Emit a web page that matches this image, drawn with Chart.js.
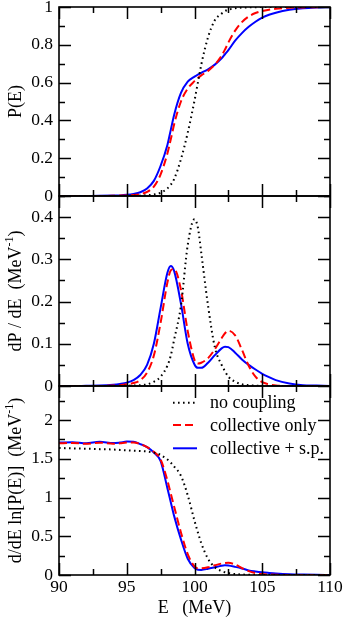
<!DOCTYPE html>
<html><head><meta charset="utf-8">
<script src="https://cdn.jsdelivr.net/npm/chart.js@4.4.1/dist/chart.umd.min.js"></script>
<style>
html,body{margin:0;padding:0;background:#fff}
#wrap{position:relative;width:345px;height:618px}
canvas{position:absolute;left:0;top:0}
</style></head>
<body><div id="wrap">
<canvas id="c1" width="345" height="618"></canvas>
<canvas id="c2" width="345" height="618"></canvas>
<canvas id="c3" width="345" height="618"></canvas>
</div>
<script>
// ---- data ----
const energy = [90, 91, 92, 93, 94, 94.5, 95, 95.5, 96, 96.5, 97, 97.5, 98, 98.25, 98.5, 99, 99.5, 100, 100.25, 100.5, 101, 101.5, 102, 102.25, 102.5, 103, 103.5, 104, 104.5, 105, 105.5, 106, 107, 108, 109, 110];

const pNoCoupling = [0,0,0,0,0,0.0002,0.0005,0.001,0.002,0.004,0.008,0.017,0.04,0.06,0.09,0.195,0.335,0.505,0.6,0.695,0.84,0.93,0.965,0.978,0.986,0.993,0.997,0.998,0.999,1,1,1,1,1,1,1];
const pCollective = [0,0,0,0,0.001,0.002,0.003,0.005,0.01,0.022,0.05,0.115,0.225,0.3,0.38,0.5,0.568,0.608,0.624,0.638,0.662,0.695,0.742,0.775,0.812,0.875,0.92,0.95,0.968,0.979,0.986,0.991,0.996,0.998,0.999,1];
const pCollectiveSP = [0,0,0.0005,0.001,0.002,0.003,0.006,0.011,0.02,0.04,0.08,0.16,0.27,0.35,0.43,0.545,0.605,0.632,0.642,0.652,0.67,0.695,0.728,0.75,0.772,0.822,0.862,0.895,0.922,0.944,0.959,0.97,0.985,0.993,0.997,0.999];

const dNoCoupling = [0,0,0,0,0,0.0003,0.0007,0.0012,0.002,0.004,0.01,0.022,0.048,0.072,0.11,0.19,0.334,0.395,0.375,0.315,0.19,0.092,0.05,0.035,0.022,0.01,0.004,0.002,0.0008,0.0003,0,0,0,0,0,0];
const dCollective = [0,0,0,0,0.001,0.002,0.004,0.007,0.014,0.032,0.072,0.15,0.245,0.274,0.277,0.228,0.13,0.062,0.053,0.055,0.066,0.087,0.113,0.125,0.131,0.12,0.086,0.048,0.022,0.009,0.004,0.001,0,0,0,0];
const dCollectiveSP = [0,0,0.0005,0.001,0.003,0.005,0.008,0.014,0.026,0.05,0.1,0.185,0.268,0.284,0.272,0.195,0.1,0.051,0.043,0.043,0.055,0.073,0.089,0.093,0.092,0.079,0.063,0.05,0.039,0.029,0.021,0.014,0.006,0.002,0.001,0];

const lNoCoupling = [1.64,1.635,1.63,1.625,1.62,1.615,1.61,1.605,1.6,1.595,1.58,1.55,1.49,1.45,1.4,1.28,1.03,0.7,0.55,0.41,0.21,0.1,0.05,0.035,0.025,0.012,0.006,0.003,0.001,0.0005,0,0,0,0,0,0];
const lCollective = [1.7,1.705,1.693,1.708,1.695,1.7,1.71,1.71,1.69,1.65,1.59,1.49,1.22,1.05,0.88,0.55,0.27,0.11,0.088,0.088,0.1,0.125,0.148,0.155,0.157,0.135,0.09,0.05,0.025,0.012,0.006,0.003,0.001,0,0,0];
const lCollectiveSP = [1.71,1.715,1.7,1.72,1.703,1.71,1.722,1.72,1.69,1.65,1.58,1.47,1.12,0.94,0.76,0.46,0.21,0.09,0.068,0.066,0.08,0.1,0.12,0.125,0.122,0.105,0.085,0.06,0.046,0.035,0.027,0.02,0.01,0.005,0.002,0.001];

const seriesNames = ['no coupling', 'collective only', 'collective + s.p.'];
const xTicks = [90, 95, 100, 105, 110];
const pTicks = [0, 0.2, 0.4, 0.6, 0.8, 1];
const dTicks = [0, 0.1, 0.2, 0.3, 0.4];
const lTicks = [0, 0.5, 1, 1.5, 2];

// ---- styling ----
const SERIF = '"Liberation Serif", "Times New Roman", serif';
const styles = [
  {borderColor:'#000000', borderWidth:2, borderDash:[1.6,3.4]},
  {borderColor:'#ff0000', borderWidth:2, borderDash:[8,4]},
  {borderColor:'#0000ff', borderWidth:2, borderDash:[]}
];
const fmt = v => String(+Number(v).toFixed(3));

function mkDatasets(arrs){
  return arrs.map((a,i)=>Object.assign({
    label: seriesNames[i],
    data: energy.map((e,k)=>({x:e, y:a[k]})),
    pointRadius:0, fill:false, cubicInterpolationMode:'monotone'
  }, styles[i]));
}

const framePlugin = {
  id:'frame',
  afterDraw(chart, args, o){
    const ctx = chart.ctx, a = chart.chartArea, xs = chart.scales.x, ys = chart.scales.y;
    ctx.save();
    ctx.strokeStyle = '#000';
    ctx.lineWidth = 1.5;
    ctx.beginPath();
    for (let v = 90; v <= 110.001; v += 2.5){
      const px = Math.round(xs.getPixelForValue(v)) + 0.5;
      const major = Math.abs(v/5 - Math.round(v/5)) < 1e-6;
      const L = major ? 12 : 6;
      ctx.moveTo(px, a.top); ctx.lineTo(px, a.top + L);
      ctx.moveTo(px, a.bottom); ctx.lineTo(px, a.bottom - L);
    }
    for (let v = o.yMin; v <= o.yMax + 1e-9; v += o.minor){
      const py = Math.round(ys.getPixelForValue(v)) + 0.5;
      const major = Math.abs(v/o.major - Math.round(v/o.major)) < 1e-6;
      const L = major ? 12 : 6;
      ctx.moveTo(a.left, py); ctx.lineTo(a.left + L, py);
      ctx.moveTo(a.right, py); ctx.lineTo(a.right - L, py);
    }
    ctx.stroke();
    ctx.lineWidth = 1.6;
    ctx.strokeRect(a.left, a.top, a.right - a.left, a.bottom - a.top);
    ctx.fillStyle = '#000';
    ctx.translate(o.titleX, (a.top + a.bottom)/2);
    ctx.rotate(-Math.PI/2);
    ctx.textBaseline = 'middle';
    const big = '18px ' + SERIF, small = '12px ' + SERIF;
    let w = 0;
    o.title.forEach(p => { ctx.font = p.sup ? small : big; w += ctx.measureText(p.t).width; });
    let cx = -w/2;
    o.title.forEach(p => {
      ctx.font = p.sup ? small : big;
      ctx.textAlign = 'left';
      ctx.fillText(p.t, cx, p.sup ? -6 : 0);
      cx += ctx.measureText(p.t).width;
    });
    ctx.restore();
    if (o.legend){
      ctx.save();
      const ds = chart.data.datasets;
      const rows = [402.7, 425, 448.3];
      ds.forEach((d, i) => {
        ctx.strokeStyle = d.borderColor; ctx.lineWidth = d.borderWidth;
        ctx.setLineDash(d.borderDash || []);
        ctx.beginPath(); ctx.moveTo(173, rows[i]); ctx.lineTo(197, rows[i]); ctx.stroke();
        ctx.setLineDash([]);
        ctx.fillStyle = '#000'; ctx.font = '18px ' + SERIF;
        ctx.textBaseline = 'middle'; ctx.textAlign = 'left';
        ctx.fillText(d.label, 210, rows[i] + 1);
      });
      ctx.font = '18px ' + SERIF; ctx.textAlign = 'center'; ctx.textBaseline = 'alphabetic';
      ctx.fillText('E   (MeV)', (a.left + a.right)/2, 613);
      ctx.restore();
    }
  }
};

function makePanel(id, arrs, yMin, yMax, yTickVals, major, minor, padTop, padBottom, showX, title, legend){
  const xScale = {
    type:'linear', min:90, max:110, display: showX,
    grid:{display:false, drawTicks:false}, border:{display:false},
    afterBuildTicks: s => { s.ticks = xTicks.map(v => ({value:v})); },
    ticks:{font:{family:SERIF, size:17.5}, color:'#000', padding:2, maxRotation:0, autoSkip:false, callback: fmt}
  };
  if (showX) xScale.afterFit = s => { s.height = 43; s.paddingLeft = 0; s.paddingRight = 0; };
  return new Chart(document.getElementById(id), {
    type:'line',
    data:{datasets: mkDatasets(arrs)},
    options:{
      responsive:false, animation:false, events:[], devicePixelRatio:1,
      layout:{padding:{top:padTop, bottom:padBottom, left:0, right:15}},
      plugins:{legend:{display:false}, tooltip:{enabled:false},
        frame:{yMin, yMax, major, minor, title, legend, titleX:16}},
      scales:{
        x: xScale,
        y:{type:'linear', min:yMin, max:yMax,
          grid:{display:false, drawTicks:false}, border:{display:false},
          afterBuildTicks: s => { s.ticks = yTickVals.map(v => ({value:v})); },
          ticks:{font:{family:SERIF, size:17.5}, color:'#000', padding:6, callback: fmt},
          afterFit: s => { s.width = 59; s.paddingTop = 0; s.paddingBottom = 0; }
        }
      }
    },
    plugins:[framePlugin]
  });
}

makePanel('c1', [pNoCoupling, pCollective, pCollectiveSP], 0, 1, pTicks, 0.2, 0.1, 7, 422, false,
  [{t:'P(E)'}], false);
makePanel('c2', [dNoCoupling, dCollective, dCollectiveSP], 0, 0.45, dTicks, 0.1, 0.05, 196, 232, false,
  [{t:'dP / dE  (MeV'}, {t:'-1', sup:true}, {t:')'}], false);
makePanel('c3', [lNoCoupling, lCollective, lCollectiveSP], 0, 2.44, lTicks, 0.5, 0.25, 386, 0, true,
  [{t:'d/dE ln[P(E)]  (MeV'}, {t:'-1', sup:true}, {t:')'}], true);
</script>
</body></html>
